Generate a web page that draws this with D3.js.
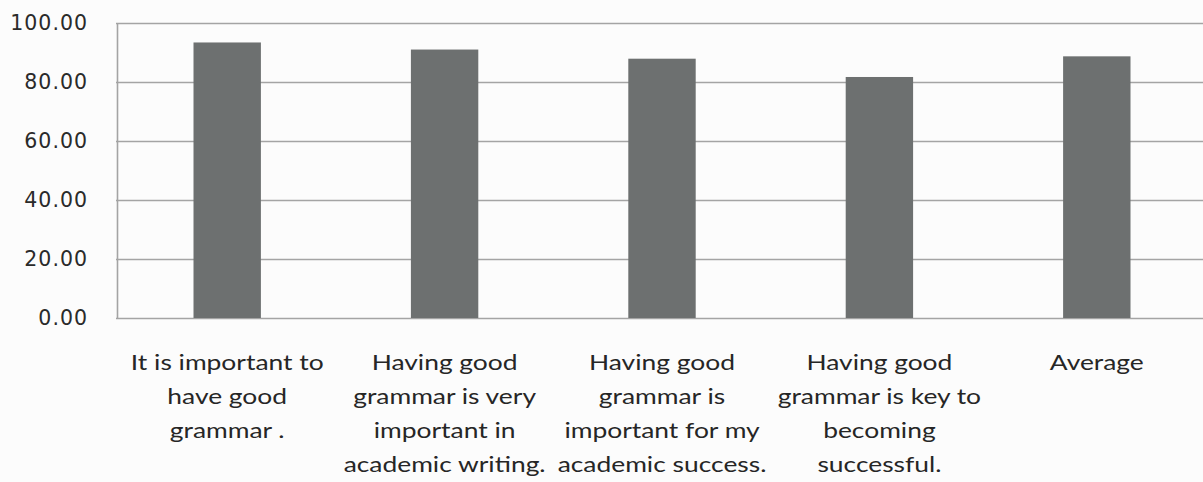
<!DOCTYPE html>
<html>
<head>
<meta charset="utf-8">
<script src="https://cdn.jsdelivr.net/npm/d3@7"></script>
<style>
  html, body { margin: 0; padding: 0; background: #fcfcfc; }
  svg { display: block; }
</style>
</head>
<body>
<svg id="chart"></svg>
<script>
// data
var categories = ["c1", "c2", "c3", "c4", "avg"];
var labelLines = [
  ["It is important to", "have good", "grammar ."],
  ["Having good", "grammar is very", "important in", "academic writing."],
  ["Having good", "grammar is", "important for my", "academic success."],
  ["Having good", "grammar is key to", "becoming", "successful."],
  ["Average"]
];
var values = [93.4, 91.0, 87.9, 81.7, 88.7];
var yTicks = [0, 20, 40, 60, 80, 100];

var width = 1203, height = 482;
var plotLeft = 117, plotRight = 1203, plotTop = 23, plotBottom = 318;

var svg = d3.select("#chart")
  .attr("width", width)
  .attr("height", height);

svg.append("rect")
  .attr("width", width)
  .attr("height", height)
  .style("fill", "#fcfcfc");

var x = d3.scaleBand()
  .domain(categories)
  .range([plotLeft + 1.5, plotLeft + 1.5 + 1087])
  .paddingInner(0.69)
  .paddingOuter(0.345);

var y = d3.scaleLinear()
  .domain([0, 100])
  .range([plotBottom, plotTop]);

// gridlines
svg.append("g")
  .selectAll("line")
  .data(yTicks)
  .enter().append("line")
  .attr("x1", plotLeft - 1)
  .attr("x2", plotRight)
  .attr("y1", function (d) { return Math.round(y(d)) + 0.5; })
  .attr("y2", function (d) { return Math.round(y(d)) + 0.5; })
  .style("stroke", "#a4a4a4")
  .style("stroke-width", 1.6);

// left axis line
svg.append("line")
  .attr("x1", plotLeft + 0.5).attr("x2", plotLeft + 0.5)
  .attr("y1", y(100)).attr("y2", y(0) + 1)
  .style("stroke", "#a4a4a4")
  .style("stroke-width", 1.6);

// y tick labels through an axis
var yAxis = svg.append("g")
  .attr("transform", "translate(" + plotLeft + ",0)")
  .call(d3.axisLeft(y).tickValues(yTicks).tickFormat(d3.format(".2f")).tickSize(0).tickPadding(29));
yAxis.select(".domain").remove();
yAxis.selectAll("text")
  .attr("dy", "0.32em")
  .style("font-family", "DejaVu Sans, Verdana, sans-serif")
  .style("font-size", "20.5px")
  .style("letter-spacing", "1px")
  .style("fill", "#2a2a2a");

// bars
svg.append("g")
  .selectAll("rect")
  .data(values)
  .enter().append("rect")
  .attr("x", function (d, i) { return x(categories[i]); })
  .attr("width", x.bandwidth())
  .attr("y", function (d) { return y(d); })
  .attr("height", function (d) { return y(0) - y(d); })
  .style("fill", "#6d7070");

// category labels
var xAxis = svg.append("g")
  .attr("transform", "translate(0," + plotBottom + ")")
  .call(d3.axisBottom(x).tickSize(0).tickFormat(""));
xAxis.select(".domain").remove();
xAxis.selectAll(".tick").each(function (d, i) {
  var t = d3.select(this).append("text")
    .attr("text-anchor", "middle")
    .attr("transform", "scale(1.2,1)")
    .style("font-family", "Lato, 'Open Sans', sans-serif")
    .style("font-size", "22px")
    .style("fill", "#262626");
  labelLines[i].forEach(function (line, k) {
    t.append("tspan")
      .attr("x", 0)
      .attr("y", 52 + k * 34)
      .text(line);
  });
});
</script>
</body>
</html>
